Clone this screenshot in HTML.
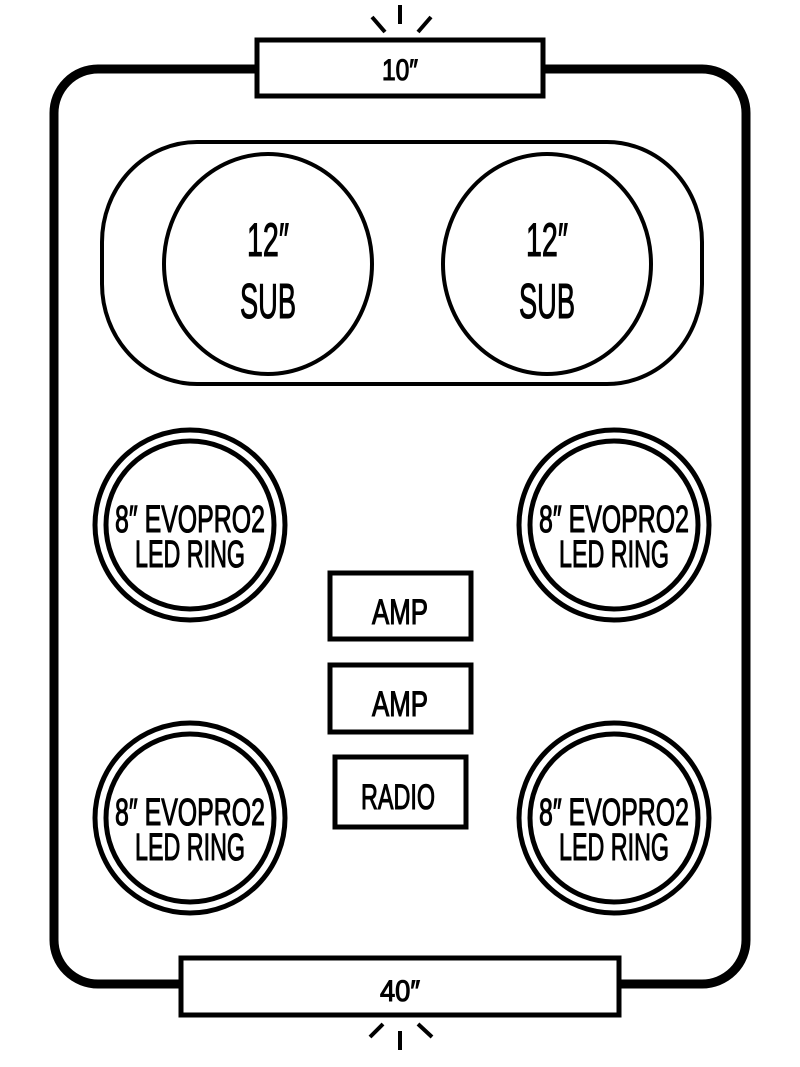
<!DOCTYPE html>
<html><head><meta charset="utf-8"><style>
html,body{margin:0;padding:0;background:#fff;width:800px;height:1067px;overflow:hidden}
text{font-family:"Liberation Sans Narrow","Liberation Sans",sans-serif;fill:#000;stroke:#000;stroke-width:1.1;text-anchor:middle}
</style></head><body>
<svg width="800" height="1067" viewBox="0 0 800 1067" xmlns="http://www.w3.org/2000/svg">
<g fill="none" stroke="#000">
<rect x="54" y="69" width="692" height="915" rx="44" stroke-width="9"/>
<rect x="257" y="40" width="286" height="56" fill="#fff" stroke-width="5"/>
<rect x="181" y="958" width="438" height="57" fill="#fff" stroke-width="5"/>
<g stroke-width="4">
<line x1="400" y1="5" x2="400" y2="24"/>
<line x1="372" y1="17" x2="385" y2="32"/>
<line x1="431" y1="17" x2="418" y2="32"/>
<line x1="400" y1="1031" x2="400" y2="1050"/>
<line x1="370" y1="1037" x2="383" y2="1024"/>
<line x1="432" y1="1037" x2="418" y2="1024"/>
</g>
<rect x="102" y="142" width="600" height="242" rx="95" ry="100" stroke-width="4"/>
<ellipse cx="268" cy="264" rx="104" ry="110" stroke-width="4"/>
<ellipse cx="547" cy="264" rx="104" ry="110" stroke-width="4"/>
<g stroke-width="5">
<circle cx="190" cy="525" r="95"/><circle cx="190" cy="525" r="84"/>
<circle cx="614" cy="525" r="95"/><circle cx="614" cy="525" r="84"/>
<circle cx="190" cy="818" r="95"/><circle cx="190" cy="818" r="84"/>
<circle cx="614" cy="818" r="95"/><circle cx="614" cy="818" r="84"/>
<rect x="330" y="573" width="141" height="66"/>
<rect x="330" y="665" width="141" height="67"/>
<rect x="335" y="757" width="131" height="70"/>
</g>
</g>
<text x="400" y="80" font-size="30" textLength="36" lengthAdjust="spacingAndGlyphs" stroke-width="0.6">10″</text>
<text x="400" y="1001" font-size="30" textLength="40" lengthAdjust="spacingAndGlyphs" stroke-width="0.6">40″</text>
<text x="268" y="256" font-size="47" textLength="42" lengthAdjust="spacingAndGlyphs">12″</text>
<text x="268" y="318" font-size="49" textLength="56" lengthAdjust="spacingAndGlyphs">SUB</text>
<text x="547" y="256" font-size="47" textLength="42" lengthAdjust="spacingAndGlyphs">12″</text>
<text x="547" y="318" font-size="49" textLength="56" lengthAdjust="spacingAndGlyphs">SUB</text>
<g font-size="38">
<text x="190" y="532" textLength="150" lengthAdjust="spacingAndGlyphs">8″ EVOPRO2</text>
<text x="190" y="567" textLength="110" lengthAdjust="spacingAndGlyphs">LED RING</text>
<text x="614" y="532" textLength="150" lengthAdjust="spacingAndGlyphs">8″ EVOPRO2</text>
<text x="614" y="567" textLength="110" lengthAdjust="spacingAndGlyphs">LED RING</text>
<text x="190" y="825" textLength="150" lengthAdjust="spacingAndGlyphs">8″ EVOPRO2</text>
<text x="190" y="860" textLength="110" lengthAdjust="spacingAndGlyphs">LED RING</text>
<text x="614" y="825" textLength="150" lengthAdjust="spacingAndGlyphs">8″ EVOPRO2</text>
<text x="614" y="860" textLength="110" lengthAdjust="spacingAndGlyphs">LED RING</text>
</g>
<g font-size="35">
<text x="400" y="624" textLength="56" lengthAdjust="spacingAndGlyphs">AMP</text>
<text x="400" y="716" textLength="56" lengthAdjust="spacingAndGlyphs">AMP</text>
<text x="398" y="809" textLength="74" lengthAdjust="spacingAndGlyphs">RADIO</text>
</g>
</svg>
</body></html>
